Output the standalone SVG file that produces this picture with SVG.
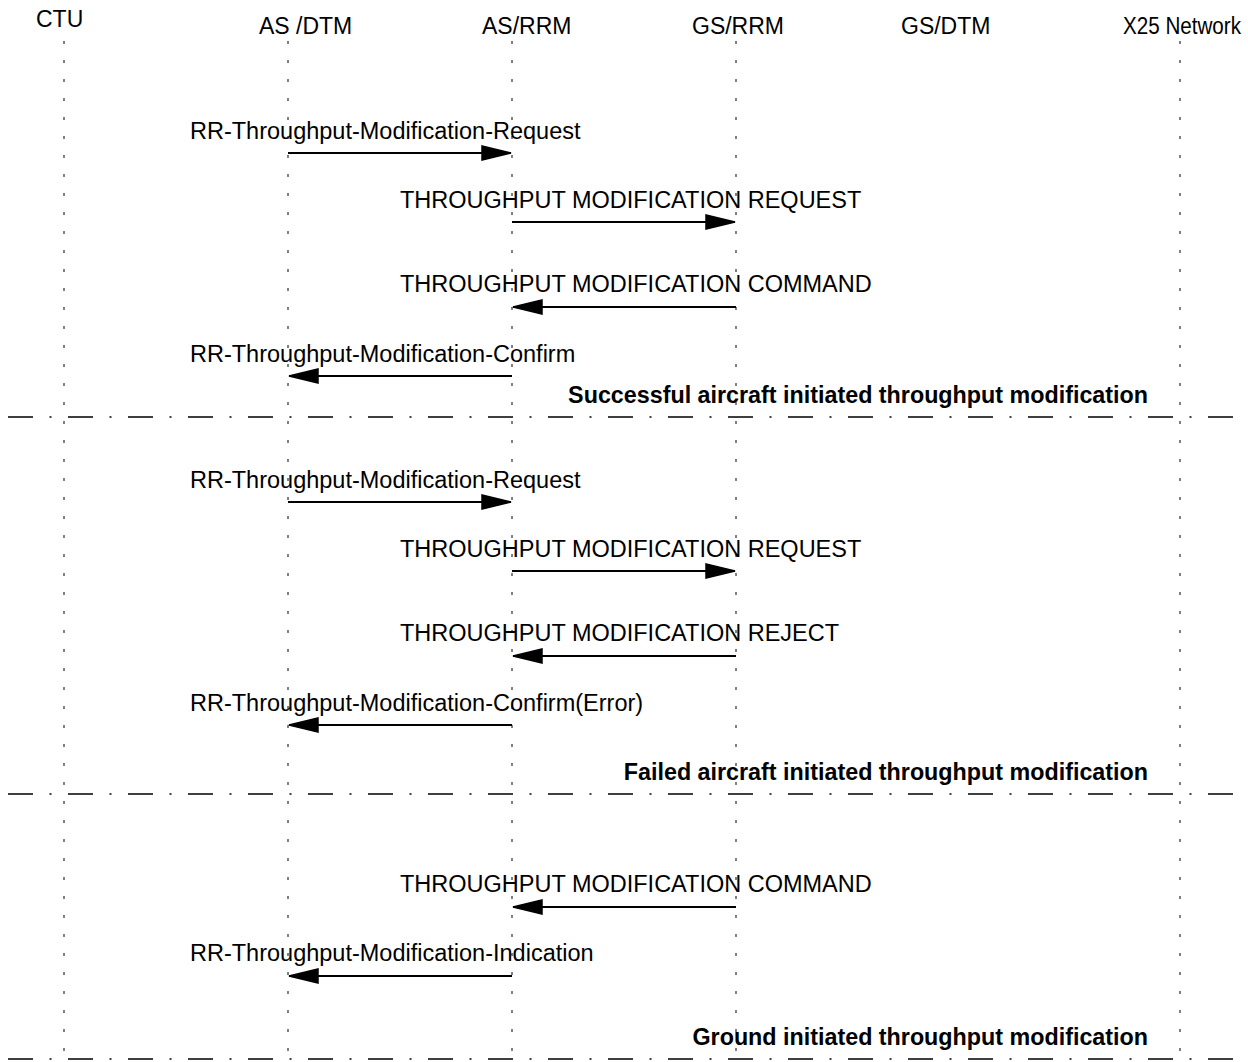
<svg xmlns="http://www.w3.org/2000/svg" width="1248" height="1062" viewBox="0 0 1248 1062">
<style>
text{font-family:"Liberation Sans",Arial,sans-serif;font-size:23.5px;fill:#000}
.h{font-size:23px}
.b{font-weight:bold;text-anchor:end;font-size:23.3px}
.life{stroke:#000;stroke-width:1;stroke-dasharray:3 16}
.sep{stroke:#000;stroke-width:1.5;stroke-dasharray:25 16.5 2 16.5}
.msg{stroke:#000;stroke-width:2;fill:none;marker-end:url(#ah)}
</style>
<defs>
<marker id="ah" markerUnits="userSpaceOnUse" markerWidth="34" markerHeight="20" refX="30" refY="8" orient="auto">
<path d="M1,1 L30,8 L1,15 Z" fill="#000" stroke="#000" stroke-width="1.5" stroke-linejoin="miter"/>
</marker>
</defs>
<rect width="1248" height="1062" fill="#fff"/>
<g id="lifelines">
<g id="ctu"><text class="h" x="36" y="27">CTU</text><line class="life" x1="64" y1="41" x2="64" y2="1062"/></g>
<g id="as-dtm"><text class="h" x="259" y="34">AS /DTM</text><line class="life" x1="288" y1="41" x2="288" y2="1062"/></g>
<g id="as-rrm"><text class="h" x="482" y="34">AS/RRM</text><line class="life" x1="512" y1="41" x2="512" y2="1062"/></g>
<g id="gs-rrm"><text class="h" x="692" y="34">GS/RRM</text><line class="life" x1="736" y1="41" x2="736" y2="1062"/></g>
<g id="gs-dtm"><text class="h" x="901" y="34">GS/DTM</text></g>
<g id="x25"><text class="h" x="1123" y="34" textLength="118" lengthAdjust="spacingAndGlyphs">X25 Network</text><line class="life" x1="1180" y1="41" x2="1180" y2="1062"/></g>
</g>
<g id="connectors">
<line class="msg" x1="288" y1="153" x2="511" y2="153"/>
<line class="msg" x1="512" y1="222" x2="735" y2="222"/>
<line class="msg" x1="736" y1="307" x2="513" y2="307"/>
<line class="msg" x1="512" y1="376" x2="289" y2="376"/>
<line class="msg" x1="288" y1="502" x2="511" y2="502"/>
<line class="msg" x1="512" y1="571" x2="735" y2="571"/>
<line class="msg" x1="736" y1="656" x2="513" y2="656"/>
<line class="msg" x1="512" y1="725" x2="289" y2="725"/>
<line class="msg" x1="736" y1="907" x2="513" y2="907"/>
<line class="msg" x1="512" y1="976" x2="289" y2="976"/>
<line class="sep" x1="8" y1="417" x2="1248" y2="417"/>
<line class="sep" x1="8" y1="794" x2="1248" y2="794"/>
<line class="sep" x1="8" y1="1059" x2="1248" y2="1059"/>
</g>
<g id="labels">
<text x="190" y="139">RR-Throughput-Modification-Request</text>
<text x="400" y="208">THROUGHPUT MODIFICATION REQUEST</text>
<text x="400" y="292">THROUGHPUT MODIFICATION COMMAND</text>
<text x="190" y="362">RR-Throughput-Modification-Confirm</text>
<text class="b" x="1148" y="403">Successful aircraft initiated throughput modification</text>
<text x="190" y="488">RR-Throughput-Modification-Request</text>
<text x="400" y="557">THROUGHPUT MODIFICATION REQUEST</text>
<text x="400" y="641">THROUGHPUT MODIFICATION REJECT</text>
<text x="190" y="711">RR-Throughput-Modification-Confirm(Error)</text>
<text class="b" x="1148" y="780">Failed aircraft initiated throughput modification</text>
<text x="400" y="892">THROUGHPUT MODIFICATION COMMAND</text>
<text x="190" y="961">RR-Throughput-Modification-Indication</text>
<text class="b" x="1148" y="1045">Ground initiated throughput modification</text>
</g>
</svg>
